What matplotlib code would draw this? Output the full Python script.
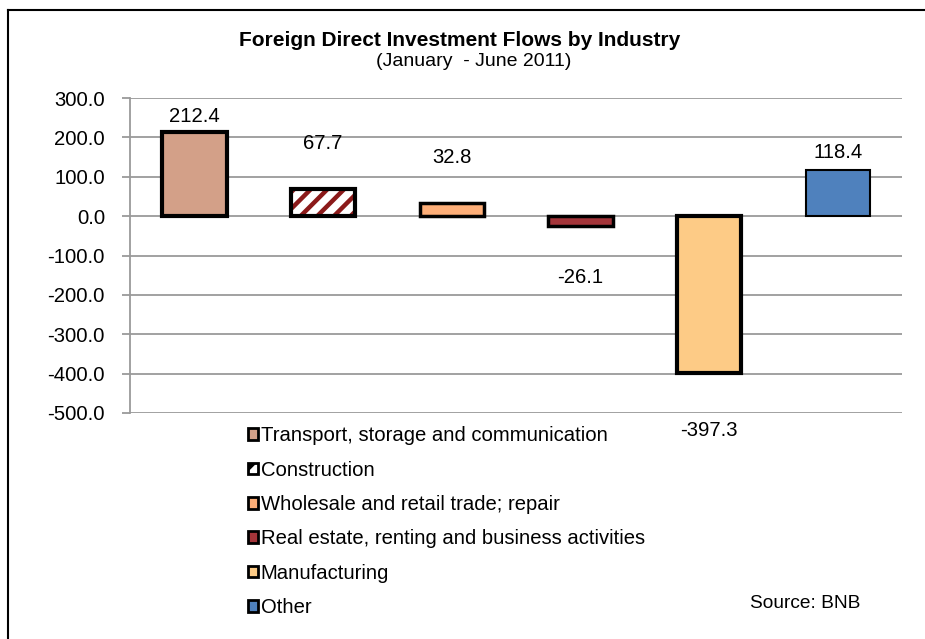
import matplotlib.pyplot as plt
from matplotlib.lines import Line2D
from matplotlib.patches import Patch

industries = [
    "Transport, storage and communication",
    "Construction",
    "Wholesale and retail trade; repair",
    "Real estate, renting and business activities",
    "Manufacturing",
    "Other",
]
flows = [212.4, 67.7, 32.8, -26.1, -397.3, 118.4]
y_ticks = [300, 200, 100, 0, -100, -200, -300, -400, -500]

# styles (Excel pattern fills approximated)
faces = ['#D3A088', 'white', '#FDAE78', '#A4353A', '#FDCB86', '#4F81BD']
hatches = ['', '//', '', '', '', '']
hatch_cols = ['none', '#8B1A1A', 'none', 'none', 'none', 'none']
edge_lw = [3, 3, 2.5, 2.5, 3, 1.5]
# label offsets in data units (where Excel put them)
label_off = [40, 118, 117, -129, -147, 42]

plt.rcParams['font.family'] = ['Liberation Sans', 'DejaVu Sans']
plt.rcParams['hatch.linewidth'] = 3.2

fig = plt.figure(figsize=(9.25, 6.39), dpi=100)
ax = fig.add_axes([130 / 925, 1 - 413 / 639, 772 / 925, 315 / 639])

x = range(len(flows))
# fill + hatch first, then black outline on top
ax.bar(x, flows, width=0.5, color=faces, hatch=hatches, edgecolor=hatch_cols,
       linewidth=0, zorder=3)
ax.bar(x, flows, width=0.5, fill=False, edgecolor='black', linewidth=edge_lw, zorder=4)

for i, v in enumerate(flows):
    ax.text(i, v + label_off[i], f"{v:.1f}", ha='center', va='center', fontsize=14.6)

ax.set_xlim(-0.5, len(flows) - 0.5)
ax.set_ylim(-500, 300)
ax.set_yticks(y_ticks)
ax.set_yticklabels([f"{t:.1f}" for t in y_ticks], fontsize=14.6)
ax.set_xticks([])
ax.yaxis.grid(True, color='#9A9A9A', linewidth=1.3, zorder=0)
ax.set_axisbelow(True)
for s in ['top', 'right', 'bottom']:
    ax.spines[s].set_visible(False)
ax.spines['left'].set_color('#9A9A9A')
ax.spines['left'].set_linewidth(1.3)
ax.tick_params(axis='y', length=6, color='#9A9A9A', width=1.3, pad=12)

fig.text(0.497, 1 - 40 / 639, "Foreign Direct Investment Flows by Industry",
         ha='center', va='center', fontsize=15, fontweight='bold')
fig.text(0.512, 1 - 62 / 639, "(January  - June 2011)", ha='center', va='center', fontsize=14)

handles = [Patch(facecolor=faces[i], edgecolor='black', hatch=hatches[i], linewidth=2)
           for i in range(len(industries))]
fig.legend(handles, industries, loc='upper left', bbox_to_anchor=(238 / 925, 1 - 416 / 639),
           frameon=False, fontsize=14.6, handlelength=0.5, handleheight=0.5,
           handletextpad=0.12, labelspacing=0.76, borderpad=0)

fig.text(860 / 925, 1 - 604 / 639, "Source: BNB", ha='right', va='center', fontsize=13.8)

# chart frame (only top and left edges visible in the crop)
fig.add_artist(Line2D([8 / 925, 1], [1 - 10 / 639, 1 - 10 / 639], color='black', lw=1.5))
fig.add_artist(Line2D([8 / 925, 8 / 925], [0, 1 - 10 / 639], color='black', lw=1.5))

fig.savefig("out.png", dpi=100)
